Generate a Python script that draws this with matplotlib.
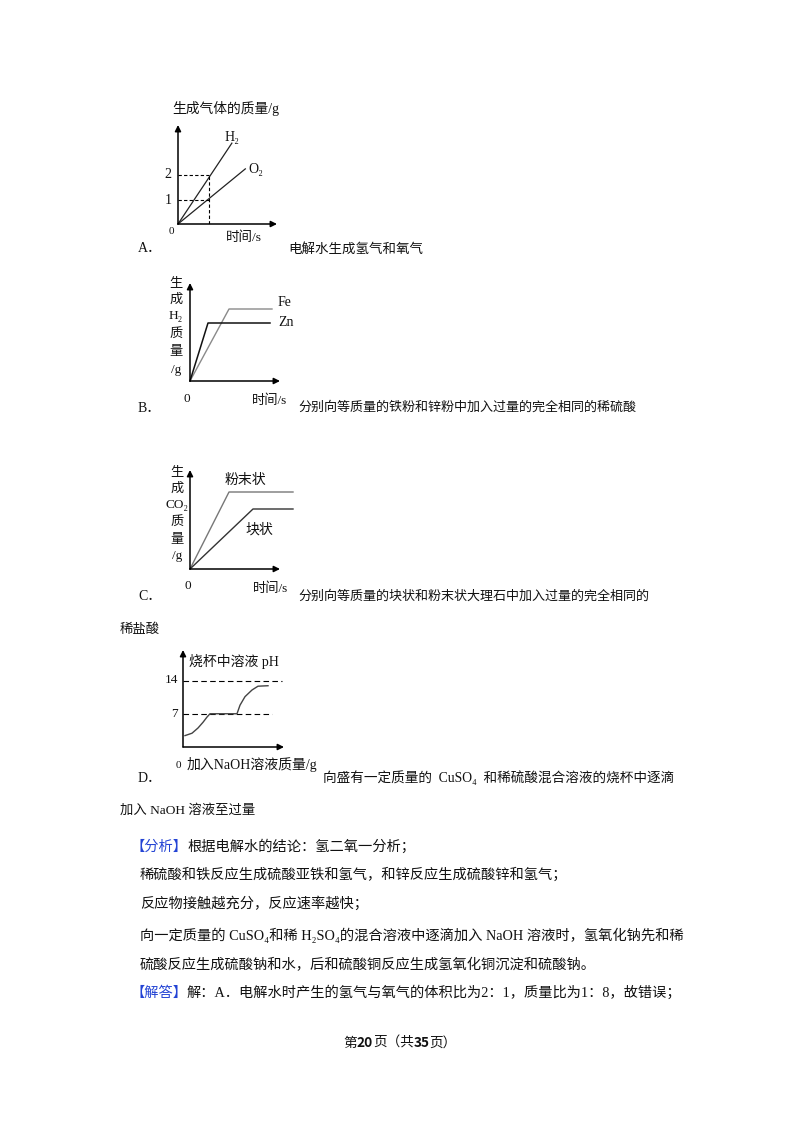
import matplotlib
matplotlib.use('Agg')
import matplotlib.pyplot as plt

plt.rcParams['font.family'] = ['Liberation Serif', 'Noto Sans CJK SC', 'DejaVu Sans']

W, H = 800, 1132

# A: electrolysis of water
a_h2_t = [0, 1.76]
a_h2_m = [0, 3.3]
a_o2_t = [0, 2.2]
a_o2_m = [0, 2.25]
a_marks = [1, 2]
a_mark_t = 1

# B: Fe / Zn with dilute sulfuric acid
b_fe_t = [0, 3.9, 8.2]
b_fe_m = [0, 7.2, 7.2]
b_zn_t = [0, 1.8, 8.0]
b_zn_m = [0, 5.8, 5.8]

# C: powder / lump marble
c_pow_t = [0, 3.9, 10.3]
c_pow_m = [0, 7.7, 7.7]
c_lump_t = [0, 6.3, 10.3]
c_lump_m = [0, 6.0, 6.0]

# D: pH while adding NaOH
d_x = [0.2, 0.9, 1.5, 2.0, 2.4, 2.7, 5.4, 5.7, 6.2, 6.9, 7.5, 8.5]
d_ph = [2.4, 2.9, 4.0, 5.2, 6.3, 7.0, 7.0, 8.8, 10.6, 12.0, 12.8, 12.9]
d_levels = [7, 14]
d_level_end = [8.9, 9.9]

fig = plt.figure(figsize=(W / 100, H / 100), dpi=100)
fig.patch.set_facecolor('white')


def px(x, y):
    return x / W, 1 - y / H


def txt(x, y, s, size=9.6, **kw):
    kw.setdefault('va', 'center')
    kw.setdefault('ha', 'left')
    kw.setdefault('color', '#111111')
    return fig.text(*px(x, y), s, fontsize=size, **kw)


def seq(x, y, parts, size=10.25, center=False):
    r = fig.canvas.get_renderer()
    made = []
    for s, kw in parts:
        t = txt(x, y, s, size, **kw)
        x += t.get_window_extent(renderer=r).width
        made.append(t)
    if center:
        # x is now the right end; shift so the run is centred on the start
        shift = (x - made[0].get_position()[0] * W) / 2
        for t in made:
            tx, ty = t.get_position()
            t.set_position((tx - shift / W, ty))


def chart(ox, oy, xend, ytop, sx, sy):
    ax = fig.add_axes([ox / W, 1 - oy / H, (xend - ox) / W, (oy - ytop) / H])
    xm, ym = (xend - ox) / sx, (oy - ytop) / sy
    ax.set_xlim(0, xm)
    ax.set_ylim(0, ym)
    ax.axis('off')
    arrow = dict(arrowstyle='-|>', lw=1.1, color='black', mutation_scale=9,
                 shrinkA=0, shrinkB=0)
    ax.annotate('', xy=(xm, 0), xytext=(0, 0), arrowprops=arrow, annotation_clip=False)
    ax.annotate('', xy=(0, ym), xytext=(0, 0), arrowprops=arrow, annotation_clip=False)
    return ax


# ---- chart A
ax = chart(178, 224, 277, 125, 30.6, 24.5)
ax.plot(a_h2_t, a_h2_m, color='#222222', lw=0.9, clip_on=False)
ax.plot(a_o2_t, a_o2_m, color='#222222', lw=0.9, clip_on=False)
for m in a_marks:
    ax.plot([0, a_mark_t], [m, m], color='black', lw=0.8, ls=(0, (3, 2)))
ax.plot([a_mark_t, a_mark_t], [0, max(a_marks)], color='black', lw=0.8, ls=(0, (3, 2)))
txt(172, 108, '生成气体的质量/g', 9.9)
txt(168, 175, '2', 10, ha='center')
txt(168, 200, '1', 10, ha='center')
txt(171, 231, '0', 8, ha='center')
txt(225, 138, 'H₂', 10)
txt(248, 169, 'O₂', 10)
txt(226, 238, '时间/s', 9.7)
txt(138, 249, 'A．', 10)
txt(288, 249, '电解水生成氢气和氧气', 9.7)

# ---- chart B
ax = chart(190, 381, 280, 283, 10, 10)
ax.plot(b_fe_t, b_fe_m, color='#8a8a8a', lw=1.0, clip_on=False)
ax.plot(b_zn_t, b_zn_m, color='#111111', lw=1.1, clip_on=False)
txt(278, 302, 'Fe', 10)
txt(278, 323, 'Zn', 10)
for s, yy in zip(['生', '成', 'H₂', '质', '量', '/g'], [283, 300, 316, 334, 352, 370]):
    txt(176, yy, s, 9.5, ha='center')
txt(187, 399, '0', 9.5, ha='center')
txt(252, 401, '时间/s', 9.5)
txt(138, 408, 'B．', 10)
txt(298, 408, '分别向等质量的铁粉和锌粉中加入过量的完全相同的稀硫酸', 9.4)

# ---- chart C
ax = chart(190, 569, 280, 470, 10, 10)
ax.plot(c_pow_t, c_pow_m, color='#777777', lw=1.0, clip_on=False)
ax.plot(c_lump_t, c_lump_m, color='#333333', lw=1.0, clip_on=False)
txt(225, 480, '粉末状', 10)
txt(245, 530, '块状', 10)
for s, yy in zip(['生', '成', 'CO₂', '质', '量', '/g'], [472, 489, 505, 522, 540, 556]):
    txt(177, yy, s, 9.5, ha='center')
txt(188, 586, '0', 9.5, ha='center')
txt(253, 589, '时间/s', 9.5)
txt(138, 597, 'C．', 10)
txt(298, 597, '分别向等质量的块状和粉末状大理石中加入过量的完全相同的', 9.4)
txt(120, 630, '稀盐酸', 9.6)

# ---- chart D
ax = chart(183, 747, 284, 650, 10, 4.75)
for lv, xe in zip(d_levels, d_level_end):
    ax.plot([0, xe], [lv, lv], color='black', lw=0.8, ls=(0, (5, 3)))
ax.plot(d_x, d_ph, color='#444444', lw=1.0)
txt(189, 661, '烧杯中溶液 pH', 10)
txt(178, 680, '14', 9.5, ha='right')
txt(178, 714, '7', 9.5, ha='right')
txt(178, 765, '0', 8, ha='center')
txt(187, 765, '加入NaOH溶液质量/g', 10)
txt(138, 778, 'D．', 10)
txt(323, 778, '向盛有一定质量的  CuSO₄  和稀硫酸混合溶液的烧杯中逐滴', 9.8)
txt(120, 810, '加入 NaOH 溶液至过量', 9.6)

# ---- analysis
blue = '#2343d4'
seq(130, 847, [('【分析】', {'color': blue}), ('根据电解水的结论：氢二氧一分析；', {})])
txt(140, 875, '稀硫酸和铁反应生成硫酸亚铁和氢气，和锌反应生成硫酸锌和氢气；', 10.25)
txt(140, 904, '反应物接触越充分，反应速率越快；', 10.25)
txt(140, 935, '向一定质量的 CuSO₄和稀 H₂SO₄的混合溶液中逐滴加入 NaOH 溶液时，氢氧化钠先和稀', 10.25)
txt(140, 965, '硫酸反应生成硫酸钠和水，后和硫酸铜反应生成氢氧化铜沉淀和硫酸钠。', 10.25)
seq(130, 993, [('【解答】', {'color': blue}),
               ('解：A．电解水时产生的氢气与氧气的体积比为2：1，质量比为1：8，故错误；', {})])

# ---- footer
foot = {'family': ['Noto Sans CJK SC']}
seq(400, 1043, [('第', foot), ('20', dict(foot, weight='bold')), ('页（共', foot),
                ('35', dict(foot, weight='bold')), ('页）', foot)], size=9.8, center=True)

fig.savefig('out.png', dpi=100, facecolor='white')
